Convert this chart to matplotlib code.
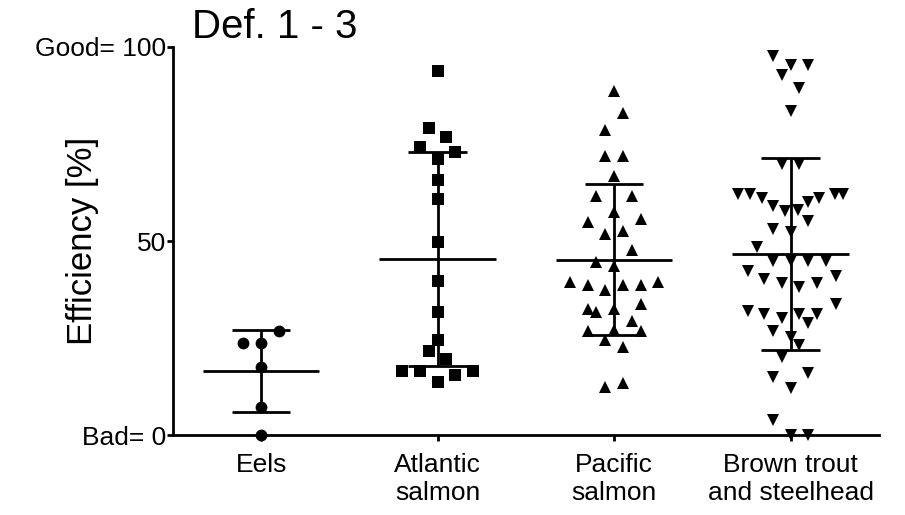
import numpy as np
import matplotlib
matplotlib.use("Agg")
import matplotlib.pyplot as plt

plt.rcParams['font.family'] = ['Liberation Sans', 'DejaVu Sans']

groups = ['Eels', 'Atlantic\nsalmon', 'Pacific\nsalmon', 'Brown trout\nand steelhead']
markers = ['o', 's', '^', 'v']

# efficiency values [%] and horizontal scatter offset (category units)
eels = [26.7, 23.8, 23.8, 17.6, 7.3, 0.0]
eels_dx = [0.1, -0.1, 0, 0, 0, 0]

atlantic = [93.8, 79.0, 76.9, 74.1, 73.0, 71.0, 65.8, 60.9, 49.7, 39.6,
            31.6, 24.6, 21.8, 19.7, 16.6, 16.6, 15.5, 16.6, 13.7]
atlantic_dx = [0, -0.05, 0.05, -0.1, 0.1, 0, 0, 0, 0, 0,
               0, 0, -0.05, 0.05, -0.2, -0.1, 0.1, 0.2, 0]

pacific = [88.6, 82.9, 78.5, 71.8, 71.8, 66.8, 61.7, 61.7, 57.5, 54.9,
           55.7, 51.8, 52.6, 47.7, 44.6, 43.5, 39.4, 38.6, 37.3, 38.6,
           38.6, 39.4, 32.6, 31.6, 32.4, 33.7, 29.5, 26.7, 27.2, 26.7,
           24.6, 22.8, 12.4, 13.5]
pacific_dx = [0, 0.05, -0.05, -0.05, 0.05, 0, -0.1, 0.1, 0, -0.15,
              0.15, -0.05, 0.05, 0.1, -0.1, 0, -0.25, -0.15, -0.05, 0.05,
              0.15, 0.25, -0.15, -0.1, 0, 0.15, 0.1, -0.15, 0, 0.15,
              -0.05, 0.05, -0.05, 0.05]

brown = [97.6, 95.3, 95.3, 92.7, 89.4, 83.4, 69.9, 69.9, 62.2, 62.2,
         62.2, 62.2, 61.1, 61.1, 59.1, 60.1, 57.8, 58.0, 55.2, 53.1,
         52.3, 48.4, 44.8, 44.8, 44.8, 44.8, 42.2, 40.9, 40.2, 39.1,
         38.1, 39.1, 33.9, 31.9, 31.1, 30.1, 31.1, 31.1, 29.0, 26.9,
         25.4, 23.1, 20.2, 15.0, 16.1, 12.2, 3.9, 0.0, 0.0]
brown_dx = [-0.1, 0, 0.1, -0.05, 0.05, 0, -0.05, 0.05, -0.3, -0.23,
            0.25, 0.3, -0.16, 0.16, -0.1, 0.1, -0.03, 0.04, 0.1, -0.1,
            0, -0.19, -0.1, 0, 0.1, 0.2, -0.24, 0.26, -0.15, -0.05,
            0.05, 0.15, 0.26, -0.24, -0.15, -0.05, 0.05, 0.15, 0.1, -0.1,
            0, 0.05, -0.05, -0.1, 0.1, 0, -0.1, 0, 0.1]

data = [eels, atlantic, pacific, brown]
offsets = [eels_dx, atlantic_dx, pacific_dx, brown_dx]

fig = plt.figure(figsize=(9.05, 5.15), dpi=100)
ax = fig.add_axes([0.191, 0.155, 0.780, 0.754])

lw = 2.0
for i, (vals, dx, m) in enumerate(zip(data, offsets, markers)):
    vals = np.array(vals)
    xs = i + np.array(dx)
    ax.plot(xs, vals, linestyle='none', marker=m, markersize=8.5,
            color='black', markeredgewidth=0, clip_on=False, zorder=3)
    # mean +/- SD
    mean = vals.mean()
    sd = vals.std(ddof=1)
    ax.hlines(mean, i - 0.33, i + 0.33, color='black', lw=lw, zorder=4)
    ax.vlines(i, mean - sd, mean + sd, color='black', lw=lw, zorder=4)
    ax.hlines([mean - sd, mean + sd], i - 0.165, i + 0.165, color='black', lw=lw, zorder=4)

ax.set_xlim(-0.5, 3.5)
ax.set_ylim(0, 100)
ax.set_xticks(range(len(groups)))
ax.set_xticklabels(groups, fontsize=19)
ax.set_yticks([0, 50, 100])
ax.set_yticklabels(['Bad= 0', '50', 'Good= 100'], fontsize=19)
ax.tick_params(axis='both', width=lw, length=4, color='black')
ax.tick_params(axis='y', pad=1)
ax.tick_params(axis='x', pad=9)

for side in ['top', 'right']:
    ax.spines[side].set_visible(False)
for side in ['left', 'bottom']:
    ax.spines[side].set_linewidth(lw)

ax.set_ylabel('Efficiency [%]', fontsize=25)
ax.yaxis.set_label_coords(-0.105, 0.5)

fig.text(0.212, 0.926, 'Def. 1 - 3', fontsize=29, va='baseline', ha='left')

fig.savefig('out.png', dpi=100, facecolor='white')
